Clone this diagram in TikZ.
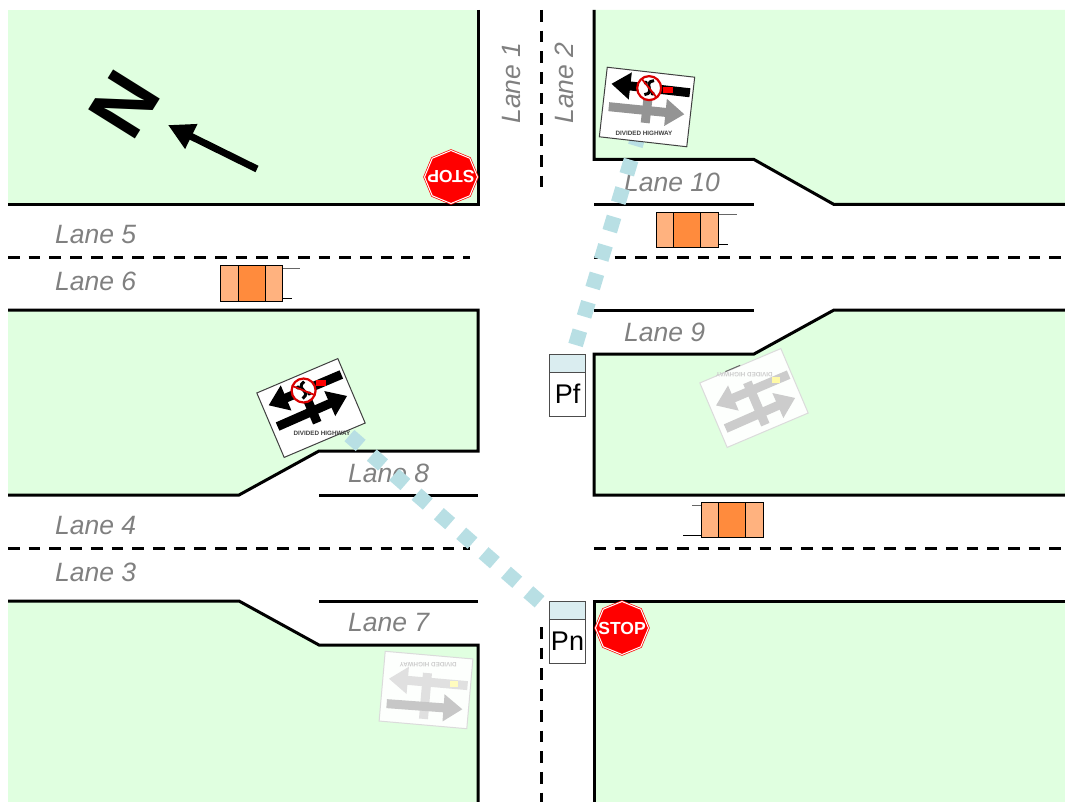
\documentclass[tikz,border=0pt]{standalone}
\usepackage{fontspec}
\setmainfont{Liberation Sans}
\usetikzlibrary{arrows.meta,shapes.geometric}

\definecolor{verge}{RGB}{224,255,224}
\definecolor{lanetext}{RGB}{128,128,128}
\definecolor{beam}{RGB}{184,223,228}
\definecolor{headfill}{RGB}{218,237,240}
\definecolor{carlight}{RGB}{255,178,127}
\definecolor{cardark}{RGB}{255,139,61}

\tikzset{
  curb/.style={line width=3pt,line join=miter},
  divider/.style={line width=3pt,dash pattern=on 11.7pt off 9pt},
  lanelabel/.style={text=lanetext,font=\fontsize{26.5}{30}\selectfont\itshape,inner sep=0pt},
  sensorbeam/.style={beam,line width=15pt,dash pattern=on 15pt off 14.7pt},
  stopsign/.style={regular polygon,regular polygon sides=8,shape border rotate=22.5,
    minimum size=53pt,inner sep=0pt,fill=red,draw=red,double=white,
    double distance=1pt,line width=.7pt,text=white,font=\fontsize{17.5}{20}\selectfont\bfseries},
  carbody/.style={draw,fill=carlight,line width=1pt,minimum width=62pt,minimum height=35pt,inner sep=0pt},
  carcore/.style={draw,fill=cardark,line width=1pt,minimum width=27pt,minimum height=35pt,inner sep=0pt},
  headbox/.style={draw=black!70,fill=headfill,line width=1pt,minimum width=36pt,minimum height=18pt,inner sep=0pt},
  bodybox/.style={draw=black!70,fill=white,line width=1pt,minimum width=36pt,minimum height=44pt,inner sep=0pt,
    font=\fontsize{27}{30}\selectfont},
  signlive/.style={draw=black!75,fill=white,line width=1pt,minimum width=88pt,minimum height=70pt,inner sep=0pt},
  signfade/.style={draw=black!14,fill=white!92!verge,line width=1pt,minimum width=88pt,minimum height=70pt,inner sep=0pt},
  signarm/.style={line width=9pt,-{Triangle[length=19pt,width=26pt]}},
  signword/.style={font=\fontsize{6.3}{6}\selectfont\bfseries,inner sep=0pt},
}

% arms of a sign: upper, lower and stem colour, height of upper and lower arm
\newcommand{\signarms}[5]{
  \draw[#3,line width=9pt] (0,#4-9) -- (0,#5+12);
  \draw[signarm,#2] (-38,#5) -- (38,#5-1);
  \draw[signarm,#1] (41,#4) -- (-38,#4);
}
% the no-turn disc with its lamp, on the upper arm
\newcommand{\signdisc}{
  \node[fill=red,minimum width=10pt,minimum height=6pt,inner sep=0pt] (lamp) at (19,-19) {};
  \node[circle,draw=red!85!black,fill=white,line width=2.2pt,minimum size=24pt,inner sep=0pt] (disc) at (0,-19) {};
  \draw[line width=3pt] (4,-27) .. controls (-8,-24) and (8,-15) .. (-4,-12);
  \fill (-4,-24) circle (2pt);
  \fill (4,-14) circle (2pt);
  \draw[red!85!black,line width=1.8pt] (-8,-27) -- (8,-11);
}

\begin{document}
\begin{tikzpicture}[x=1pt,y=-1pt]
\useasboundingbox (0,0) rectangle (1065,802);

% green corners of the crossing
\fill[verge] (8,10) rectangle (478,204.5);
\fill[verge] (594,10) -- (1065,10) -- (1065,204.5) -- (834,204.5) -- (754,159.5) -- (594,159.5) -- cycle;
\fill[verge] (8,310) -- (478,310) -- (478,451) -- (319,451) -- (239,495) -- (8,495) -- cycle;
\fill[verge] (594,354) -- (754,354) -- (834,310) -- (1065,310) -- (1065,495) -- (594,495) -- cycle;
\fill[verge] (8,601) -- (239,601) -- (319,645) -- (478,645) -- (478,802) -- (8,802) -- cycle;
\fill[verge] (594,601) rectangle (1065,802);

% kerb lines
\draw[curb] (478,10) -- (478,204.5) -- (8,204.5);
\draw[curb] (594,10) -- (594,159.5) -- (754,159.5) -- (834,204.5) -- (1065,204.5);
\draw[curb] (594,204.5) -- (754,204.5);
\draw[curb] (8,310) -- (478,310) -- (478,451) -- (319,451) -- (239,495) -- (8,495);
\draw[curb] (319,495) -- (478,495);
\draw[curb] (594,310) -- (754,310);
\draw[curb] (1065,310) -- (834,310) -- (754,354) -- (594,354) -- (594,495) -- (1065,495);
\draw[curb] (8,601) -- (239,601) -- (319,645) -- (478,645) -- (478,802);
\draw[curb] (319,601) -- (478,601);
\draw[curb] (1065,601) -- (594,601) -- (594,802);

% lane dividers
\draw[divider] (8,257.5) -- (470,257.5);
\draw[divider] (594,257.5) -- (1065,257.5);
\draw[divider] (8,548) -- (470,548);
\draw[divider] (594,548) -- (1065,548);
\draw[divider] (541,10) -- (541,187);
\draw[divider] (541,627) -- (541,802);

% lane names
\node[lanelabel,rotate=90] (laneone) at (512,83) {Lane 1};
\node[lanelabel,rotate=90] (lanetwo) at (564,83) {Lane 2};
\node[lanelabel,anchor=west] (lanethree) at (55,572) {Lane 3};
\node[lanelabel,anchor=west] (lanefour) at (55,526) {Lane 4};
\node[lanelabel,anchor=west] (lanefive) at (55,235) {Lane 5};
\node[lanelabel,anchor=west] (lanesix) at (55,281) {Lane 6};
\node[lanelabel,anchor=west] (laneseven) at (348,623) {Lane 7};
\node[lanelabel,anchor=west] (laneeight) at (348,473) {Lane 8};
\node[lanelabel,anchor=west] (lanenine) at (624,332) {Lane 9};
\node[lanelabel,anchor=west] (laneten) at (624,182) {Lane 10};

% north mark
\node[font=\fontsize{80}{80}\selectfont\bfseries,inner sep=0pt,rotate=58] (northmark) at (124,104) {N};
\coordinate (northtail) at (257,169);
\coordinate (northtip) at (168,125);
\draw[line width=7pt,-{Triangle[length=26pt,width=26pt]}] (northtail) -- (northtip);

% detectors
\node[headbox] (pfhead) at (567.5,363) {};
\node[bodybox] (pfbody) at (567.5,394) {\raisebox{-1.5pt}{Pf}};
\node[headbox] (pnhead) at (567.5,610) {};
\node[bodybox] (pnbody) at (567.5,641) {\raisebox{-1pt}{Pn}};

% detector beams
\coordinate (aimb) at (311,402);
\coordinate (aima) at (647,107);
\draw[sensorbeam,dash phase=20.8pt] (pfhead.60) -- (aima);
\draw[sensorbeam,dash phase=17.2pt] (pnhead.west) -- (aimb);

% signs
\node[signlive,rotate=-6.5] (signa) at (647,107) {};
\begin{scope}[shift={(signa.center)},rotate=-6.5]
  \signarms{black}{black!42}{black!42}{-19}{4}
  \signdisc
  \node[signword,text=black!75] (worda) at (0,27) {DIVIDED HIGHWAY};
\end{scope}
\node[signlive,rotate=23] (signb) at (311,408) {};
\begin{scope}[shift={(signb.center)},rotate=23]
  \signarms{black}{black}{black}{-19}{4}
  \signdisc
  \node[signword,text=black!75] (wordb) at (0,28) {DIVIDED HIGHWAY};
\end{scope}
\node[signfade,rotate=23] (signc) at (754,398) {};
\begin{scope}[shift={(signc.center)},rotate=23]
  \signarms{black!20}{black!20}{black!20}{-8}{17}
  \node[fill=yellow!35,minimum width=8pt,minimum height=6pt,inner sep=0pt] (lampc) at (27,-8) {};
  \node[signword,rotate=180,text=black!20] (wordc) at (0,-25) {DIVIDED HIGHWAY};
  \draw[black!60,line width=1pt] (-16,-35.5) -- (0,-35.5);
\end{scope}
\node[signfade,rotate=-5] (signd) at (426,690) {};
\begin{scope}[shift={(signd.center)},rotate=-5]
  \signarms{black!12}{black!22}{black!12}{-8}{17}
  \node[fill=yellow!25,minimum width=8pt,minimum height=6pt,inner sep=0pt] (lampd) at (27,-8) {};
  \node[signword,rotate=180,text=black!20] (wordd) at (0,-25) {DIVIDED HIGHWAY};
\end{scope}

% stop signs
\node[stopsign,rotate=180] (stopnorth) at (451,177) {\makebox[0pt]{STOP}};
\node[stopsign] (stopsouth) at (622,628) {\makebox[0pt]{STOP}};

% cars
\node[carbody] (carone) at (251.5,283.5) {};
\node[carcore] (coreone) at (carone) {};
\draw[line width=1pt,black!60] ([yshift=-3pt]carone.north east) -- ++(17,0);
\draw[line width=1pt] ([yshift=3pt]carone.south east) -- ++(9,0);
\node[carbody] (cartwo) at (687,230) {};
\node[carcore] (coretwo) at (cartwo) {};
\draw[line width=1pt,black!60] ([yshift=-3pt]cartwo.north east) -- ++(18,0);
\draw[line width=1pt] ([yshift=3pt]cartwo.south east) -- ++(9,0);
\node[carbody] (carthree) at (732,520) {};
\node[carcore] (corethree) at (carthree) {};
\draw[line width=1pt,black!60] ([yshift=-3pt]carthree.north west) -- ++(-9,0);
\draw[line width=1pt] ([yshift=3pt]carthree.south west) -- ++(-18,0);
\end{tikzpicture}
\end{document}
